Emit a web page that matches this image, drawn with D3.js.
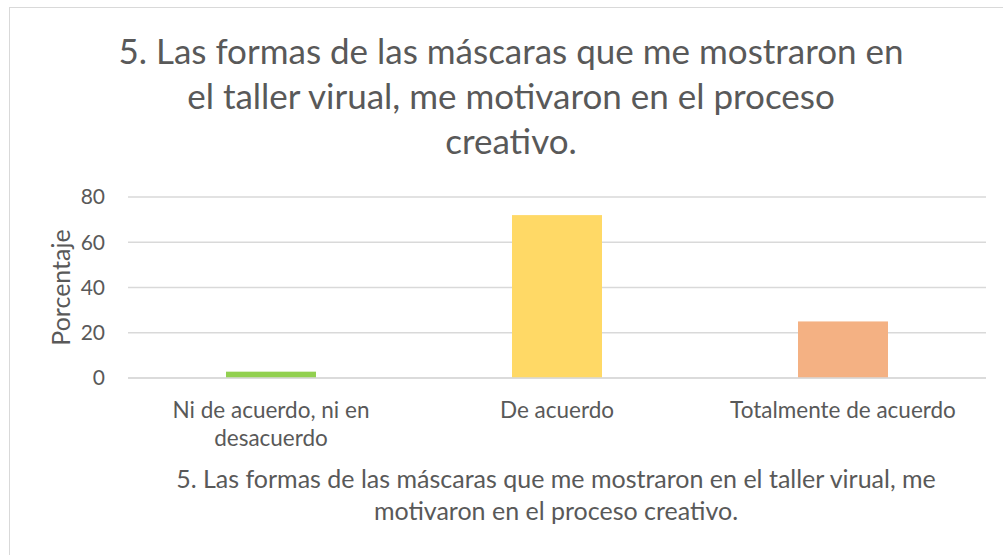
<!DOCTYPE html>
<html>
<head>
<meta charset="utf-8">
<script src="https://cdn.jsdelivr.net/npm/d3@7"></script>
<style>
  body { margin: 0; background: #fff; }
  text { font-family: Lato, "Open Sans", sans-serif; fill: #595959; }
</style>
</head>
<body>
<script>
// Data
const categories = ['Ni de acuerdo, ni en desacuerdo', 'De acuerdo', 'Totalmente de acuerdo'];
const values = [2.8, 72, 25];
const colors = ['#92d050', '#ffd966', '#f4b183'];
const yTicks = [0, 20, 40, 60, 80];
const titleLines = ['5. Las formas de las máscaras que me mostraron en', 'el taller virual, me motivaron en el proceso', 'creativo.'];
const xTitleLines = ['5. Las formas de las máscaras que me mostraron en el taller virual, me', 'motivaron en el proceso creativo.'];
const catLines = [['Ni de acuerdo, ni en', 'desacuerdo'], ['De acuerdo'], ['Totalmente de acuerdo']];

const w = 1003;
const h = 555;
const m = {left: 128, right: 17, top: 197, bottom: 177};

var svg = d3.select('body')
  .append('svg')
  .attr('width', w)
  .attr('height', h);

// chart border
svg.append('rect')
  .attr('x', 9.5).attr('y', 7.5)
  .attr('width', 1000).attr('height', 560)
  .attr('fill', 'none')
  .attr('stroke', '#d9d9d9');

var x = d3.scaleBand()
  .domain(categories)
  .range([m.left, w - m.right]);

var y = d3.scaleLinear()
  .domain([0, 80])
  .range([h - m.bottom, m.top]);

// gridlines
svg.selectAll('line.grid')
  .data(yTicks)
  .enter()
  .append('line')
  .attr('class', 'grid')
  .attr('x1', m.left)
  .attr('x2', w - m.right)
  .attr('y1', d => y(d))
  .attr('y2', d => y(d))
  .attr('stroke', '#d9d9d9')
  .attr('stroke-width', 1.5);

// y tick labels
svg.selectAll('text.ytick')
  .data(yTicks)
  .enter()
  .append('text')
  .attr('class', 'ytick')
  .attr('x', 105)
  .attr('y', d => y(d))
  .attr('dy', '0.35em')
  .attr('text-anchor', 'end')
  .style('font-size', '21px')
  .text(d => d);

// bars
const barW = 90;
svg.selectAll('rect.bar')
  .data(values)
  .enter()
  .append('rect')
  .attr('class', 'bar')
  .attr('x', (d, i) => x(categories[i]) + x.bandwidth() / 2 - barW / 2)
  .attr('y', d => y(d))
  .attr('width', barW)
  .attr('height', d => y(0) - y(d))
  .attr('fill', (d, i) => colors[i]);

// baseline on top
svg.append('line')
  .attr('x1', m.left).attr('x2', w - m.right)
  .attr('y1', y(0)).attr('y2', y(0))
  .attr('stroke', '#d9d9d9')
  .attr('stroke-width', 1.5);

// category labels
catLines.forEach((lines, i) => {
  svg.append('text')
    .attr('text-anchor', 'middle')
    .style('font-size', '22.5px')
    .selectAll('tspan')
    .data(lines)
    .enter()
    .append('tspan')
    .attr('x', x(categories[i]) + x.bandwidth() / 2)
    .attr('y', (d, j) => 418 + j * 28)
    .text(d => d);
});

// title
svg.append('text')
  .attr('text-anchor', 'middle')
  .style('font-size', '35px')
  .selectAll('tspan')
  .data(titleLines)
  .enter()
  .append('tspan')
  .attr('x', 511)
  .attr('y', (d, j) => 64 + j * 45)
  .text(d => d);

// x axis title
svg.append('text')
  .attr('text-anchor', 'middle')
  .style('font-size', '25px')
  .selectAll('tspan')
  .data(xTitleLines)
  .enter()
  .append('tspan')
  .attr('x', 556)
  .attr('y', (d, j) => 488 + j * 32)
  .text(d => d);

// y axis title
svg.append('text')
  .attr('transform', 'translate(70,' + (y(40) + 0) + ') rotate(-90)')
  .attr('text-anchor', 'middle')
  .style('font-size', '25px')
  .text('Porcentaje');
</script>
</body>
</html>
